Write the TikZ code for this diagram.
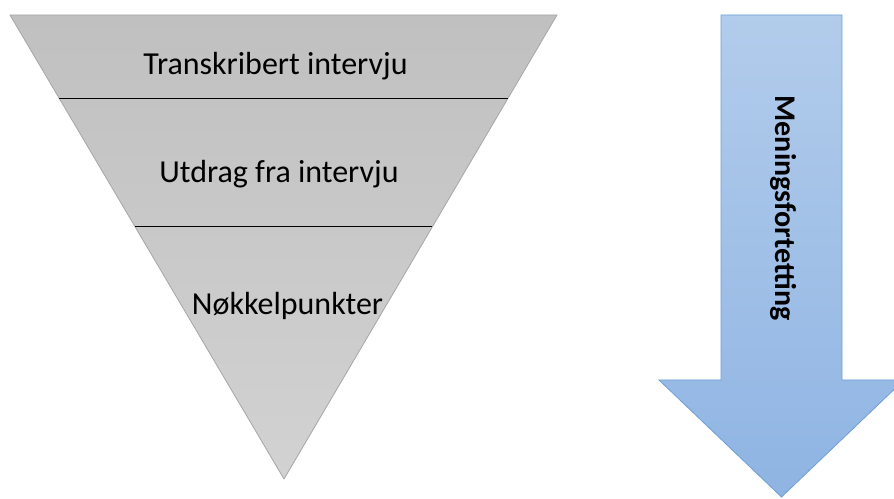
\documentclass[tikz,border=0pt]{standalone}
\usepackage{fontspec}
\setmainfont{Carlito}
\usetikzlibrary{calc}
\definecolor{triTop}{RGB}{192,192,192}
\definecolor{triBot}{RGB}{210,210,210}
\definecolor{triEdge}{RGB}{166,166,166}
\definecolor{arrTop}{RGB}{178,204,235}
\definecolor{arrBot}{RGB}{143,180,227}
\definecolor{arrEdge}{RGB}{109,159,216}
\tikzset{
  lbl/.style={font=\fontsize{32}{36}\selectfont, anchor=base, inner sep=0pt},
  divider/.style={black, line width=1pt},
}
\begin{document}
\begin{tikzpicture}[x=1pt,y=1pt]
\useasboundingbox (0,0) rectangle (894,498);
% triangle
\coordinate (A) at (10,483);
\coordinate (B) at (557,483);
\coordinate (C) at (284,19);
\shade[top color=triTop, bottom color=triBot, draw=triEdge, line width=0.8pt, line join=round]
  (A) -- (B) -- (C) -- cycle;
\draw[divider] ($(A)!0.1789!(C)$) coordinate (l1) -- ($(B)!0.1789!(C)$) coordinate (r1);
\draw[divider] ($(A)!0.4569!(C)$) coordinate (l2) -- ($(B)!0.4569!(C)$) coordinate (r2);
\node[lbl] (t1) at (275.5,423) {Transkribert intervju};
\node[lbl] (t2) at (279,315) {Utdrag fra intervju};
\node[lbl] (t3) at (287.5,183) {Nøkkelpunkter};
% arrow
\shade[top color=arrTop, bottom color=arrBot, draw=arrEdge, line width=0.8pt, line join=miter]
  (721,483) -- (842,483) -- (842,118) -- (904,118) -- (781.5,1) -- (659,118) -- (721,118) -- cycle;
\node[font=\fontsize{30}{34}\selectfont\bfseries, rotate=-90, inner sep=0pt] (m) at (783,290) {Meningsfortetting};
\end{tikzpicture}
\end{document}
